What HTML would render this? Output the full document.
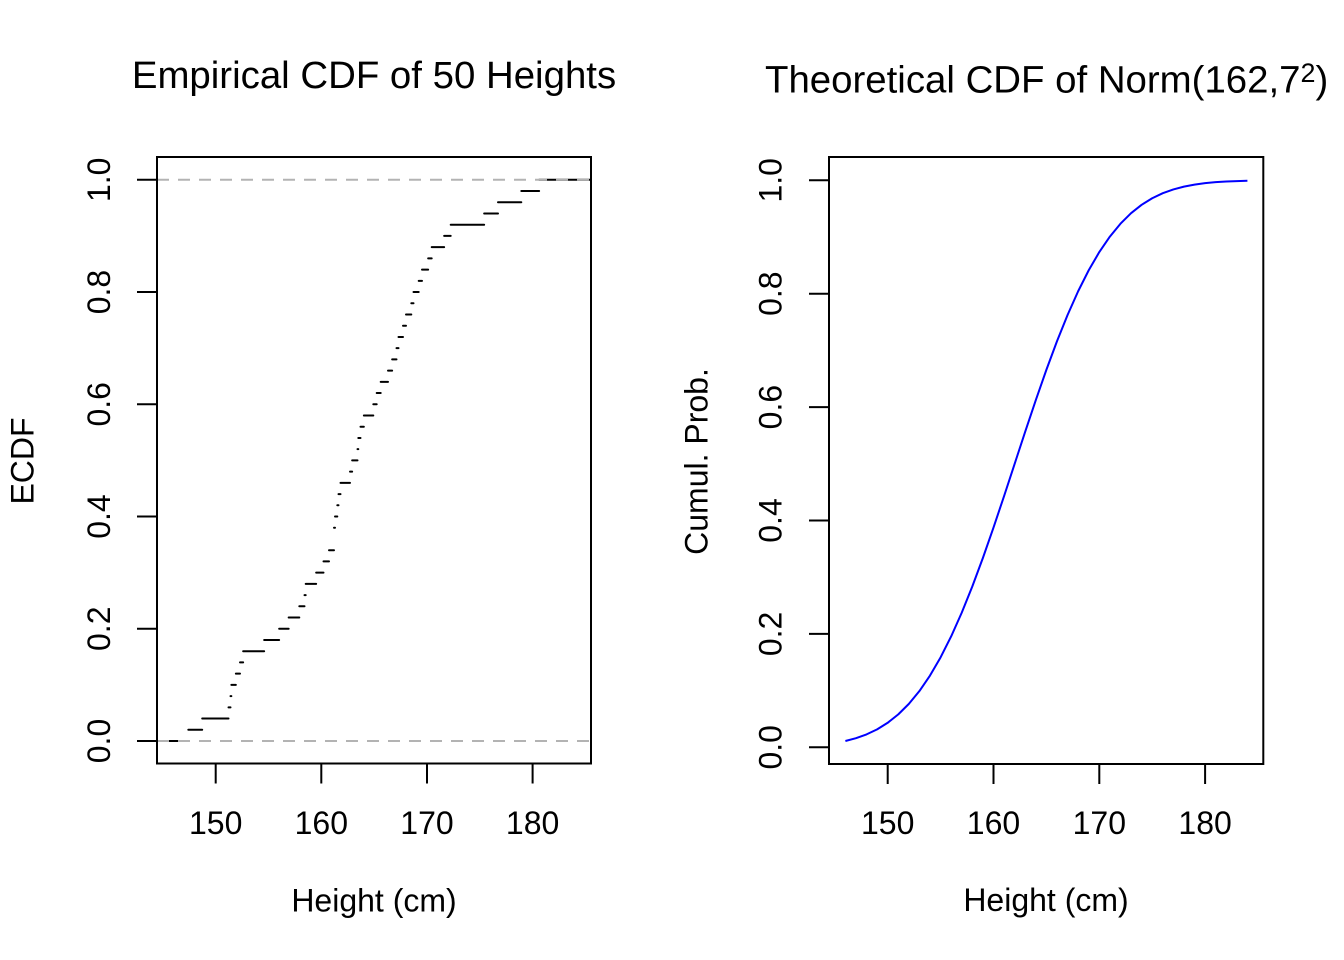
<!DOCTYPE html>
<html>
<head>
<meta charset="utf-8">
<style>
  html, body { margin: 0; padding: 0; background: #ffffff; }
  svg { display: block; }
  text { font-family: "Liberation Sans", Arial, Helvetica, sans-serif; fill: #000; }
</style>
</head>
<body>
<svg width="1344" height="960" viewBox="0 0 1344 960" xmlns="http://www.w3.org/2000/svg">
  <rect x="0" y="0" width="1344" height="960" fill="#ffffff"/>
  <defs>
    <clipPath id="clipL"><rect x="157" y="157" width="434" height="606.5"/></clipPath>
    <clipPath id="clipR"><rect x="829" y="157" width="434.3" height="607"/></clipPath>
  </defs>

  <text x="374" y="88" font-size="38.4" text-anchor="middle">Empirical CDF of 50 Heights</text>

  <g clip-path="url(#clipL)">
    <path fill="none" stroke="#000" stroke-width="2" stroke-linecap="round" d="M150 741 H188.3 M188.3 729.78 H202.2 M202.2 718.55 H228.5 M228.5 707.33 H230.5 M230.5 696.1 H231.35 M231.35 684.88 H235.85 M235.85 673.66 H240 M240 662.43 H243.15 M243.15 651.21 H264.15 M264.15 639.98 H279.15 M279.15 628.76 H288.65 M288.65 617.54 H299.3 M299.3 606.31 H304.5 M304.5 595.09 H305.7 M305.7 583.86 H316.15 M316.15 572.64 H323.5 M323.5 561.42 H329 M329 550.19 H334 M334 527.74 H335 M335 516.52 H337.3 M337.3 505.3 H338.5 M338.5 494.07 H340.5 M340.5 482.85 H350 M350 471.62 H352.15 M352.15 460.4 H357.5 M357.5 449.18 H358.3 M358.3 437.95 H360.5 M360.5 426.73 H363.85 M363.85 415.5 H373.3 M373.3 404.28 H376.7 M376.7 393.06 H380.7 M380.7 381.83 H388 M388 370.61 H392.15 M392.15 359.38 H396.5 M396.5 348.16 H398.5 M398.5 336.94 H403 M403 325.71 H406 M406 314.49 H411.3 M411.3 303.26 H413.5 M413.5 292.04 H418.7 M418.7 280.82 H422 M422 269.59 H428.15 M428.15 258.37 H431.7 M431.7 247.14 H444.15 M444.15 235.92 H450.7 M450.7 224.7 H484.15 M484.15 213.47 H498 M498 202.25 H521.3 M521.3 191.02 H539.15 M539.15 179.8 H600"/>
    <line x1="157" y1="741" x2="591" y2="741" stroke="#B3B3B3" stroke-width="2" stroke-dasharray="12 9"/>
    <line x1="157" y1="179.8" x2="591" y2="179.8" stroke="#B3B3B3" stroke-width="2" stroke-dasharray="12 9"/>
  </g>

  <rect x="157" y="157" width="434" height="606.5" fill="none" stroke="#000" stroke-width="2"/>

  <g stroke="#000" stroke-width="2">
    <line x1="215.7" y1="763.5" x2="215.7" y2="783.5"/>
    <line x1="321.3" y1="763.5" x2="321.3" y2="783.5"/>
    <line x1="427" y1="763.5" x2="427" y2="783.5"/>
    <line x1="532.6" y1="763.5" x2="532.6" y2="783.5"/>
  </g>
  <g font-size="32" text-anchor="middle">
    <text x="215.7" y="834">150</text>
    <text x="321.3" y="834">160</text>
    <text x="427" y="834">170</text>
    <text x="532.6" y="834">180</text>
  </g>
  <text x="374" y="911.5" font-size="32" text-anchor="middle">Height (cm)</text>

  <g stroke="#000" stroke-width="2">
    <line x1="137" y1="741" x2="157" y2="741"/>
    <line x1="137" y1="628.76" x2="157" y2="628.76"/>
    <line x1="137" y1="516.52" x2="157" y2="516.52"/>
    <line x1="137" y1="404.28" x2="157" y2="404.28"/>
    <line x1="137" y1="292.04" x2="157" y2="292.04"/>
    <line x1="137" y1="179.8" x2="157" y2="179.8"/>
  </g>
  <g font-size="32" text-anchor="middle">
    <text transform="translate(110,741) rotate(-90)">0.0</text>
    <text transform="translate(110,628.76) rotate(-90)">0.2</text>
    <text transform="translate(110,516.52) rotate(-90)">0.4</text>
    <text transform="translate(110,404.28) rotate(-90)">0.6</text>
    <text transform="translate(110,292.04) rotate(-90)">0.8</text>
    <text transform="translate(110,179.8) rotate(-90)">1.0</text>
  </g>
  <text transform="translate(33.5,461) rotate(-90)" font-size="32" text-anchor="middle">ECDF</text>

  <text x="765" y="92.5" font-size="38.4">Theoretical CDF of Norm(162,7<tspan font-size="26.9" dy="-10.6">2</tspan><tspan dy="10.6">)</tspan></text>

  <g clip-path="url(#clipR)">
    <polyline fill="none" stroke="#0000FF" stroke-width="2" stroke-linejoin="round" points="845.38,740.99 855.96,738.19 866.54,734.4 877.12,729.35 887.7,722.78 898.28,714.39 908.86,703.89 919.44,691.01 930.02,675.55 940.6,657.34 951.18,636.35 961.76,612.62 972.34,586.36 982.92,557.85 993.5,527.56 1004.08,496.01 1014.66,463.8 1025.24,431.59 1035.82,400.04 1046.4,369.75 1056.98,341.24 1067.56,314.98 1078.14,291.25 1088.72,270.26 1099.3,252.05 1109.88,236.59 1120.46,223.71 1131.04,213.21 1141.62,204.82 1152.2,198.25 1162.78,193.2 1173.36,189.41 1183.94,186.61 1194.52,184.6 1205.1,183.17 1215.68,182.18 1226.26,181.51 1236.84,181.07 1247.42,180.78"/>
  </g>

  <rect x="829" y="157" width="434.3" height="607" fill="none" stroke="#000" stroke-width="2"/>

  <g stroke="#000" stroke-width="2">
    <line x1="887.7" y1="764" x2="887.7" y2="784"/>
    <line x1="993.5" y1="764" x2="993.5" y2="784"/>
    <line x1="1099.3" y1="764" x2="1099.3" y2="784"/>
    <line x1="1205.1" y1="764" x2="1205.1" y2="784"/>
  </g>
  <g font-size="32" text-anchor="middle">
    <text x="887.7" y="834">150</text>
    <text x="993.5" y="834">160</text>
    <text x="1099.3" y="834">170</text>
    <text x="1205.1" y="834">180</text>
  </g>
  <text x="1046" y="911" font-size="32" text-anchor="middle">Height (cm)</text>

  <g stroke="#000" stroke-width="2">
    <line x1="809" y1="747.3" x2="829" y2="747.3"/>
    <line x1="809" y1="633.9" x2="829" y2="633.9"/>
    <line x1="809" y1="520.5" x2="829" y2="520.5"/>
    <line x1="809" y1="407.1" x2="829" y2="407.1"/>
    <line x1="809" y1="293.7" x2="829" y2="293.7"/>
    <line x1="809" y1="180.3" x2="829" y2="180.3"/>
  </g>
  <g font-size="32" text-anchor="middle">
    <text transform="translate(781.7,747.3) rotate(-90)">0.0</text>
    <text transform="translate(781.7,633.9) rotate(-90)">0.2</text>
    <text transform="translate(781.7,520.5) rotate(-90)">0.4</text>
    <text transform="translate(781.7,407.1) rotate(-90)">0.6</text>
    <text transform="translate(781.7,293.7) rotate(-90)">0.8</text>
    <text transform="translate(781.7,180.3) rotate(-90)">1.0</text>
  </g>
  <text transform="translate(707.5,461.5) rotate(-90)" font-size="32" text-anchor="middle">Cumul. Prob.</text>
</svg>
</body>
</html>
